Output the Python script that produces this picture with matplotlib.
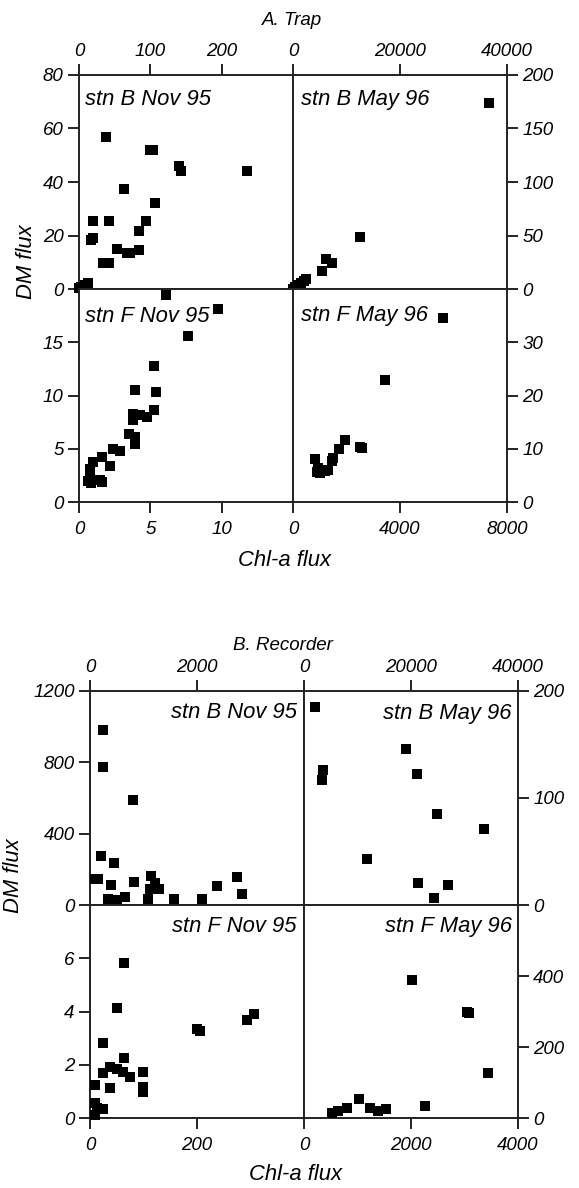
import matplotlib.pyplot as plt

plt.rcParams['font.family'] = ['Liberation Sans', 'DejaVu Sans']
plt.rcParams['font.style'] = 'italic'

fontsz = 13.5   # tick labels
fontlb = 15.8   # axis labels / station text

# ---- A. Trap ----
a_bnov_x = [0.5, 3, 8, 12, 17, 19, 19.2, 33, 42.5, 38, 41.6, 53.7, 63.5, 67, 71.5, 84.5, 84.5, 93.5, 100, 104, 106.5, 140, 142.5, 235]
a_bnov_y = [0.3, 0.8, 1.5, 2.4, 18.2, 19, 25.5, 9.8, 9.6, 57, 25.5, 15.1, 37.4, 13.4, 13.4, 14.6, 21.8, 25.5, 52, 52, 32.3, 46, 44.2, 44]

a_bmay_x = [0, 400, 900, 1500, 2000, 2400, 5360, 6170, 7230, 12520, 36700]
a_bmay_y = [0.5, 2, 3.5, 5.5, 7.5, 9, 16.5, 27.7, 24.6, 48.3, 173.5]

a_fnov_x = [6.1, 9.77, 7.62, 5.26, 3.93, 5.4, 5.28, 3.76, 3.76, 4.28, 4.74, 3.53, 3.93, 3.93, 2.36, 2.87, 2.17, 1.59, 1.0, 0.77, 0.77, 0.82, 1.47, 1.6, 0.6]
a_fnov_y = [19.4, 18.1, 15.6, 12.8, 10.5, 10.3, 8.6, 8.3, 7.7, 8.2, 8.0, 6.4, 6.1, 5.45, 4.95, 4.8, 3.4, 4.2, 3.8, 3.07, 2.4, 1.76, 2.07, 1.85, 2.0]

a_fmay_x = [5595, 3440, 1944, 1720, 2505, 2570, 1507, 1450, 822, 947, 885, 1320, 1196, 1000]
a_fmay_y = [34.6, 22.9, 11.6, 9.9, 10.4, 10.1, 8.2, 7.8, 8.0, 6.3, 5.7, 6.0, 5.8, 5.5]

# ---- B. Recorder ----
b_bnov_x = [100, 150, 206, 249, 249, 449, 393, 798, 828, 1134, 1215, 1290, 1121, 1078, 343, 499, 654, 480, 1576, 2100, 2380, 2753, 2847]
b_bnov_y = [146, 146, 275, 981, 775, 237, 112, 589, 131, 163, 125, 88, 88, 32, 32, 28, 43, 9, 32, 32, 108, 159, 60]

b_bmay_x = [2056, 3610, 3300, 19000, 21060, 24800, 33640, 11720, 21370, 26970, 24300]
b_bmay_y = [185.3, 126, 117, 146, 122, 85, 70.7, 43, 20.3, 18.7, 6.2]

b_fnov_x = [63.5, 49.9, 25, 200, 206, 293, 307, 64, 25, 37, 50, 62, 75, 100, 100, 100, 37, 9.3, 9.3, 12.5, 25, 9.3]
b_fnov_y = [5.83, 4.12, 2.83, 3.35, 3.25, 3.7, 3.9, 2.24, 1.68, 1.93, 1.83, 1.74, 1.55, 1.74, 1.18, 0.99, 1.11, 1.24, 0.55, 0.36, 0.33, 0.11]

b_fmay_x = [2025, 3050, 3090, 3433, 2262, 1028, 517, 642, 798, 1234, 1390, 1533]
b_fmay_y = [389, 300, 295, 126, 34, 53.5, 15, 20, 27, 27, 20, 24.5]


def panel(rect, x, y, xlim, ylim, xt, yt, xside, yside, lab, lab_pos, ha, ms):
    ax = fig.add_axes(rect)
    ax.plot(x, y, 's', c='k', ms=ms, mew=0, clip_on=False, zorder=3)
    ax.set_xlim(xlim)
    ax.set_ylim(ylim)
    ax.set_xticks(xt)
    ax.set_yticks(yt)
    for s in ax.spines.values():
        s.set_linewidth(1.4)
        s.set_color('#222222')
    ax.tick_params(axis='both', direction='out', length=8, width=1.4, color='#222222',
                   labelsize=fontsz, pad=3)
    if xside == 'top':
        ax.xaxis.tick_top()
    else:
        ax.xaxis.tick_bottom()
        ax.tick_params(axis='x', pad=6)
    if yside == 'right':
        ax.yaxis.tick_right()
    else:
        ax.yaxis.tick_left()
    ax.text(lab_pos[0], lab_pos[1], lab, transform=ax.transAxes, ha=ha, va='center',
            fontsize=fontlb)
    return ax


fig = plt.figure(figsize=(5.79, 11.88), dpi=100)

# panel A geometry (figure fractions)
l, m, r = 0.1364, 0.506, 0.8756
t, c, b = 0.9369, 0.7567, 0.5774
w1, w2, h1, h2 = m - l, r - m, t - c, c - b

panel([l, c, w1, h1], a_bnov_x, a_bnov_y, (0, 300), (0, 80), [0, 100, 200], [0, 20, 40, 60, 80],
      'top', 'left', 'stn B Nov 95', (0.03, 0.885), 'left', 7.8)
panel([m, c, w2, h1], a_bmay_x, a_bmay_y, (0, 40000), (0, 200), [0, 20000, 40000], [0, 50, 100, 150, 200],
      'top', 'right', 'stn B May 96', (0.036, 0.885), 'left', 7.8)
panel([l, b, w1, h2], a_fnov_x, a_fnov_y, (0, 15), (0, 20), [0, 5, 10], [0, 5, 10, 15],
      'bottom', 'left', 'stn F Nov 95', (0.03, 0.87), 'left', 7.8)
panel([m, b, w2, h2], a_fmay_x, a_fmay_y, (0, 8000), (0, 40), [0, 4000, 8000], [0, 10, 20, 30],
      'bottom', 'right', 'stn F May 96', (0.036, 0.875), 'left', 7.8)

fig.text(0.504, 0.983, 'A. Trap', ha='center', va='center', fontsize=13.5)
fig.text(0.492, 0.5286, 'Chl-a flux', ha='center', va='center', fontsize=fontlb)
fig.text(0.045, 0.7795, 'DM flux', ha='center', va='center', rotation=90, fontsize=fontlb)

# panel B geometry
l, m, r = 0.1554, 0.525, 0.8946
t, c, b = 0.4184, 0.2382, 0.0589
w1, w2, h1, h2 = m - l, r - m, t - c, c - b

panel([l, c, w1, h1], b_bnov_x, b_bnov_y, (0, 4000), (0, 1200), [0, 2000], [0, 400, 800, 1200],
      'top', 'left', 'stn B Nov 95', (0.967, 0.897), 'right', 7.3)
panel([m, c, w2, h1], b_bmay_x, b_bmay_y, (0, 40000), (0, 200), [0, 20000, 40000], [0, 100, 200],
      'top', 'right', 'stn B May 96', (0.97, 0.893), 'right', 7.3)
panel([l, b, w1, h2], b_fnov_x, b_fnov_y, (0, 400), (0, 8), [0, 200], [0, 2, 4, 6],
      'bottom', 'left', 'stn F Nov 95', (0.967, 0.9), 'right', 7.3)
panel([m, b, w2, h2], b_fmay_x, b_fmay_y, (0, 4000), (0, 600), [0, 2000, 4000], [0, 200, 400],
      'bottom', 'right', 'stn F May 96', (0.97, 0.9), 'right', 7.3)

fig.text(0.489, 0.457, 'B. Recorder', ha='center', va='center', fontsize=13.5)
fig.text(0.511, 0.011, 'Chl-a flux', ha='center', va='center', fontsize=fontlb)
fig.text(0.024, 0.2626, 'DM flux', ha='center', va='center', rotation=90, fontsize=fontlb)

plt.savefig('out.png', dpi=100)
plt.close()
